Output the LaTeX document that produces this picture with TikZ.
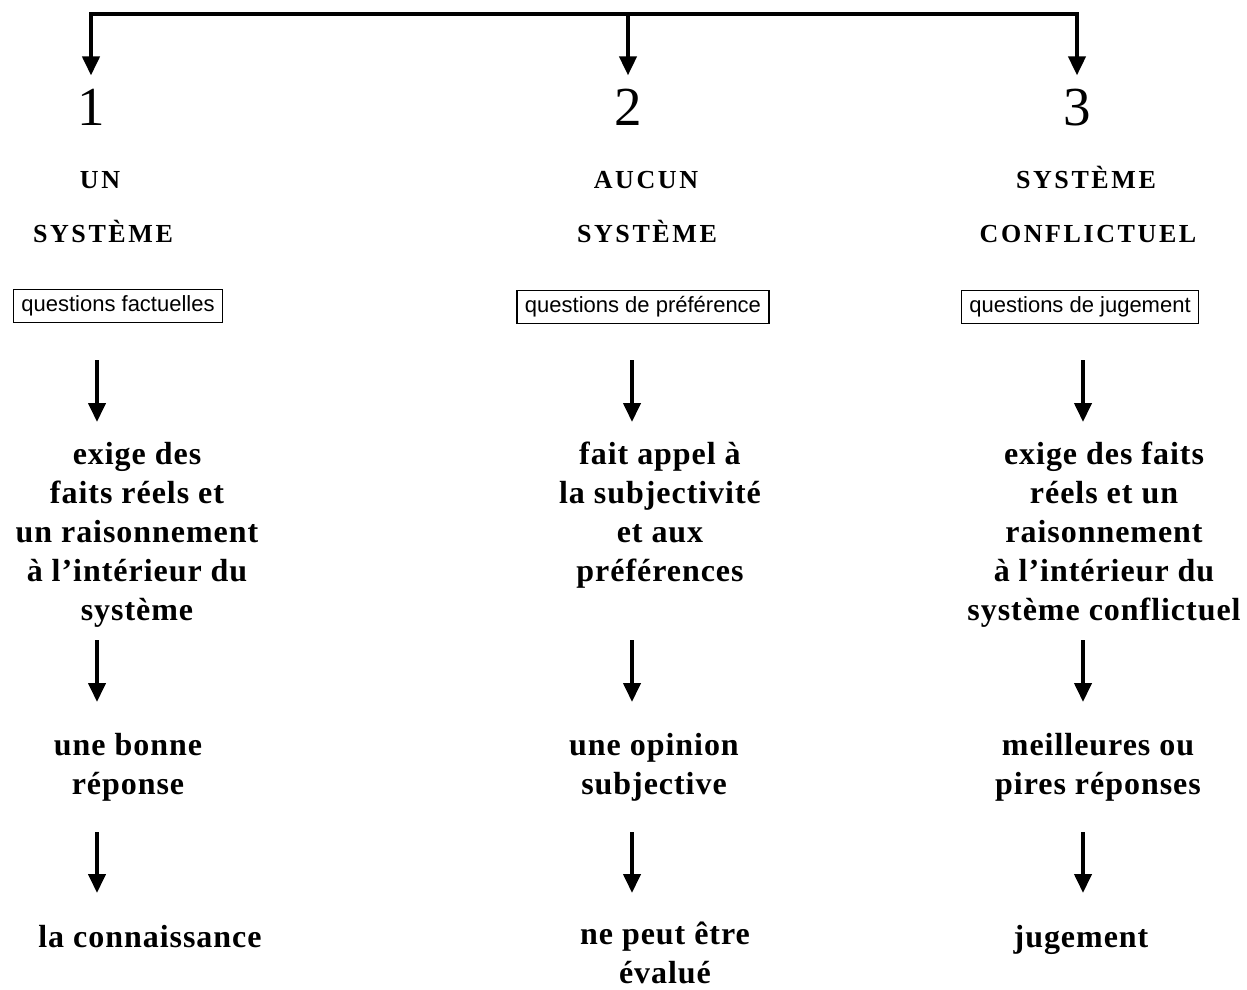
\documentclass[tikz,border=0pt]{standalone}
\usepackage{fontspec}
\setmainfont{Liberation Serif}
\newfontfamily\headfont[LetterSpace=10]{Liberation Serif}
\newfontfamily\bodyfont[LetterSpace=3]{Liberation Serif}
\newfontfamily\boxfont{Liberation Sans}
\usetikzlibrary{arrows.meta}
\tikzset{%
  x=1pt, y=-1pt,
  digit/.style={
    font=\fontsize{55}{60}\selectfont,
    anchor=base, inner sep=13pt},
  heading/.style={
    font=\headfont\bfseries\fontsize{26}{30}\selectfont,
    anchor=base, inner sep=0pt},
  qbox/.style={
    draw, line width=1.3pt, font=\boxfont\fontsize{22}{24}\selectfont,
    inner xsep=8pt, inner ysep=6pt},
  result/.style={
    font=\bodyfont\bfseries\fontsize{32}{39}\selectfont,
    align=center, anchor=north, inner sep=0pt},
  bar/.style={
    line width=4pt, line cap=rect},
  flow/.style={
    line width=4pt,
    -{Triangle[width=17pt,length=19pt]}}
}

\begin{document}
\begin{tikzpicture}
    \useasboundingbox (0,0) rectangle (1247,990);

    % numbers
    \node[digit] (n1) at (91,125) {1};
    \node[digit] (n2) at (628,125) {2};
    \node[digit] (n3) at (1077,125) {3};

    % bracket on top
    \coordinate (bar1) at (91,14);
    \coordinate (bar2) at (628,14);
    \coordinate (bar3) at (1077,14);
    \draw[bar] (bar1) -- (bar3);
    \draw[flow] (bar1) -- (n1.north);
    \draw[flow] (bar2) -- (n2.north);
    \draw[flow] (bar3) -- (n3.north);

    % headings
    \node[heading] (h1a) at (100,188) {UN};
    \node[heading] (h1b) at (103,242) {SYSTÈME};
    \node[heading] (h2a) at (646,188) {AUCUN};
    \node[heading] (h2b) at (647,242) {SYSTÈME};
    \node[heading] (h3a) at (1086,188) {SYSTÈME};
    \node[heading] (h3b) at (1088,242) {CONFLICTUEL};

    % kinds of questions
    \node[qbox] (q1) at (118,306) {questions factuelles};
    \node[qbox] (q2) at (643,307) {questions de préférence};
    \node[qbox] (q3) at (1080,307) {questions de jugement};

    % what they ask for
    \node[result] (a1) at (137,442) {exige des\\faits réels et\\un raisonnement\\à l’intérieur du\\système};
    \node[result] (a2) at (660,442) {fait appel à\\la subjectivité\\et aux\\préférences};
    \node[result] (a3) at (1104,442) {exige des faits\\réels et un\\raisonnement\\à l’intérieur du\\système conflictuel};

    % what comes out
    \node[result] (b1) at (128,733) {une bonne\\réponse};
    \node[result] (b2) at (654,733) {une opinion\\subjective};
    \node[result] (b3) at (1098,733) {meilleures ou\\pires réponses};

    \node[result] (c1) at (150,925) {la connaissance};
    \node[result] (c2) at (665,922) {ne peut être\\évalué};
    \node[result] (c3) at (1081,925) {jugement};

    % down arrows between the rows
    \foreach \n/\x in {1/97, 2/632, 3/1083} {
      \foreach \k/\ya/\yb in {a/360/422, b/640/702, c/832/893} {
        \coordinate (\k\n top) at (\x,\ya);
        \coordinate (\k\n tip) at (\x,\yb);
        \draw[flow] (\k\n top) -- (\k\n tip);
      }
    }

\end{tikzpicture}
\end{document}
